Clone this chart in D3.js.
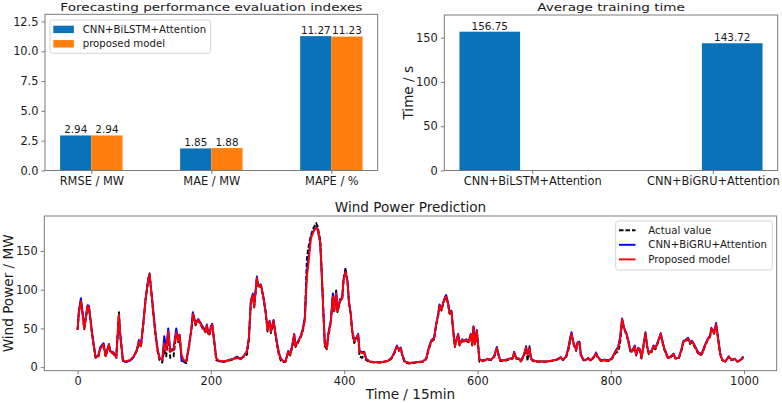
<!DOCTYPE html>
<html>
<head>
<meta charset="utf-8">
<script src="https://cdn.jsdelivr.net/npm/d3@7"></script>
<style>
  html, body { margin: 0; padding: 0; background: #fff; }
  svg { display: block; font-family: 'DejaVu Sans', sans-serif; }
</style>
</head>
<body>
<div class="js-container"></div>
<script>
// Top left: error metrics of the two models.
var metricNames = ['RMSE / MW', 'MAE / MW', 'MAPE / %'];
var bilstmScores = [2.94, 1.85, 11.27];
var proposedScores = [2.94, 1.88, 11.23];
var metricTicks = [0, 2.5, 5, 7.5, 10, 12.5];

// Top right: average training time.
var modelNames = ['CNN+BiLSTM+Attention', 'CNN+BiGRU+Attention'];
var trainSeconds = [156.75, 143.72];
var secondTicks = [0, 50, 100, 150];

// Bottom: wind power series at these time steps.
var timeIdx = [
  0,2,5,10,15,17,22,27,31,34,
  39,42,47,49,54,58,62,64,68,72,
  79,84,89,92,95,99,102,106,108,112,
  114,117,120,123,127,130,133,136,139,144,
  148,151,153,156,159,163,167,171,173,177,
  181,184,188,192,194,196,198,200,202,205,
  208,211,219,226,234,239,244,249,254,257,
  260,263,265,269,271,275,279,282,285,288,
  290,294,296,299,302,305,309,312,316,319,
  322,325,327,331,335,338,341,344,346,350,
  354,358,360,364,366,369,371,374,376,380,
  383,385,388,390,394,397,399,402,405,407,
  410,412,415,418,421,423,427,430,433,438,
  446,456,466,471,476,479,482,485,487,491,
  498,508,518,523,527,531,535,538,541,543,
  546,548,551,553,556,558,561,563,566,568,
  571,573,577,580,583,587,590,592,594,596,
  599,603,608,613,615,620,625,629,631,634,
  640,648,653,655,658,663,665,670,673,675,
  678,680,683,690,705,718,725,728,733,736,
  739,741,744,748,750,753,755,759,763,766,
  770,775,778,780,785,790,797,802,807,811,
  814,817,820,823,826,829,832,836,838,841,
  844,846,849,852,855,857,861,864,867,871,
  875,877,880,882,886,890,894,897,902,906,
  909,912,916,919,922,926,930,934,937,941,
  945,949,951,955,958,961,964,967,972,977,
  981,986,990,995,999
];

var actualPower = [
  48,72,86,49,78,77,40,12,13,24,
  28,13,28,19,17,12,71,40,8.5,6.5,
  9,13,21,32,26,58,87,114,121,84,
  65,40,20,9,6,22,14,44,12,14,
  44,32,40,14,7,5,25,49,70,54,
  60,56,49,45,53,43,41,51,55,32,
  9,8,7,8,10,12,10,13,16,35,
  84,92,77,114,103,105,88,71,46,58,
  44,59,47,29,16,8,6.5,7,19,15,
  26,41,26,32,39,47,62,140,153,170,
  180,186,182,165,130,68,27,23,38,58,
  95,72,99,71,86,87,113,128,110,84,
  66,44,31,36,41,14,12,18,9,6.5,
  6,6,8,11,19,26,21,24,15,5.5,
  4.5,6,7,10,23,33,36,54,66,79,
  73,80,88,90,81,69,71,51,26,32,
  41,28,34,32,34,32,41,28,51,28,
  46,7,8,9,10,9,13,23,17,8,
  8,10,11,18,11,10,7,15,27,8,
  27,11,8,7,7,9,12,9,13,20,
  34,42,30,21,30,31,15,9,9,11,
  8,13,17,13,8,8.5,8,11,18,20,
  30,60,49,43,34,21,19,26,15,23,
  21,11,26,43,23,17,19,26,23,32,
  42,34,23,19,11,13,16,11,11,21,
  32,33,36,30,32,26,19,15,17,26,
  34,39,49,43,54,36,17,9,7,13,
  9,10,7,9,13
];

var bigruPower = [
  49,73,89,52,80,79,43,13,15,26,
  31,15,30,21,19,13,66,44,8.5,6.5,
  8.5,13,23,35,28,61,88,113,119,87,
  69,44,24,12,9,40,24,50,22,24,
  50,36,42,8,8.5,7,27,52,71,57,
  62,58,52,47,55,45,43,53,56,35,
  12,8,7,9,11,13.5,11,14,21,38,
  86,95,80,117,105,107,90,73,49,60,
  47,61,49,33,19,11,7.5,7.5,21,17,
  28,43,28,34,41,50,65,123,138,168,
  176,181,178,160,125,65,30,26,43,61,
  94,74,97,73,88,89,113,124,111,86,
  68,48,35,38,43,21,19,20,11,7.5,
  6.5,6.5,8.5,12,21,28,23,25.5,17,7.5,
  5.5,6.5,7.5,11,26,35,38,56,68,81,
  75,82,90,93,83,71,73,54,29,34,
  43,30,36,34,36,34,43,30,53,31,
  48,9.5,9,9.5,11,9.5,14,26,19,9,
  9,11,12,20,12,11,7.5,17,26,17,
  25,12,9,7.5,7.5,9.5,13,9.5,14,24,
  38,45,32,23,32,33,17,9.5,9.5,12,
  9,14,19,14,9,9.5,9,12,21,26,
  39,63,51,45,36,23,21,28,17,25,
  23,12,28,45,25,19,21,28,25,34,
  44,36,25,21,12,14,17.5,12,12,23,
  34,35,38,32,34,28,21,17,19,28,
  36,41,51,45,57,38,19,9.5,7.5,14,
  9.5,11,7.5,9.5,14
];

var proposedPower = [
  48,70,85,50,79,78,41,12.5,14,24,
  29,14,29,20,18,12.5,68,42,9.4,7.3,
  9.4,13.7,22,33,26.7,59,87,112,120,85,
  67,42,22,11.6,9.4,31,22,46,20,22,
  45,33,41.7,16,9.4,7.3,26.7,50,69,55,
  61,57,50,46,54,44,42,52,55,33,
  11.6,8.6,7.3,8.6,10.7,12.5,10.3,13.7,20,37,
  85,93,78,115,104,106,89,72,48,59,
  46,60,48,31,18,10.7,7.3,7.3,20,16,
  27,42,27,33,40,48,61,117,130,166,
  175,180,179,162,128,67,29,24.5,40,59,
  91,72,95,72,87,88,112,123,110,85,
  67,46,33,37,42,20,18,19,10.7,7.3,
  6.4,6.4,8.2,11.6,20,27,22,24.5,16,7.3,
  5.2,6.4,7.3,10.7,24.5,34,37,55,67,80,
  74,81,89,91,82,70,72,52,27,33,
  42,29,35,33,35,33,42,29,52,29,
  47,9.4,8.6,9.4,10.7,9.4,13.7,24.5,18,8.6,
  8.6,10.7,11.6,19,11.6,10.7,7.3,16,25,16,
  24.5,11.6,8.6,7.3,7.3,9.4,12.5,9.4,13.7,22.4,
  35,43,31,22.4,31,32,16,9.4,9.4,11.6,
  8.6,13.7,18,13.7,8.6,9,8.6,11.6,20,24.5,
  37,62,50,44,35,22.4,20,27,16,24.5,
  22.4,11.6,27,44,24.5,18,20,27,24.5,33,
  43,35,24.5,20,11.6,13.7,17,11.6,11.6,22.4,
  33,34,37,31,33,27,20,16,18,27,
  35,40,50,44,55,37,18,9.4,7.3,13.7,
  9.4,10.7,7.3,9.4,13.7
];

var powerTicks = [0, 50, 100, 150];
var stepTicks = [0, 200, 400, 600, 800, 1000];

;(function() {
  'use strict';

  var W = 782, H = 403;
  var blue = '#0a72b8';
  var orange = '#ff7f0e';
  var frameColor = '#6e6e6e';
  var textColor = '#1a1a1a';
  var tickFont = 11.4;
  var titleFont = 13.6;
  var legendFont = 10.2;

  var svg = d3.select('.js-container').append('svg')
              .attr('width', W)
              .attr('height', H);

  /**
   * Draws frame, axes and title for one panel.
   * box = {l, r, t, b}; titleY is the title baseline, squash its vertical scale.
   */
  function drawFrame(box, x, y, xTicks, xFormat, yTicks, yFormat, title, titleY, squash) {
    var g = svg.append('g');

    g.append('g')
        .attr('transform', 'translate(0,' + box.b + ')')
        .call(d3.axisBottom(x).tickValues(xTicks).tickFormat(xFormat)
                .tickSizeOuter(0).tickSize(3.5).tickPadding(3));

    g.append('g')
        .attr('transform', 'translate(' + box.l + ',0)')
        .call(d3.axisLeft(y).tickValues(yTicks).tickFormat(yFormat)
                .tickSizeOuter(0).tickSize(3.5).tickPadding(3));

    g.selectAll('.domain').remove();
    g.selectAll('.tick line').attr('stroke', frameColor).attr('stroke-width', 0.9);
    g.selectAll('.tick text')
        .attr('fill', textColor)
        .style('font-size', tickFont + 'px')
        .style('font-family', "'DejaVu Sans', sans-serif");

    g.append('rect')
        .attr('x', box.l)
        .attr('y', box.t)
        .attr('width', box.r - box.l)
        .attr('height', box.b - box.t)
        .attr('fill', 'none')
        .attr('stroke', frameColor)
        .attr('stroke-width', 0.9);

    svg.append('text')
        .attr('transform', 'translate(' + ((box.l + box.r) / 2) + ',' + titleY + ') scale(1,' + squash + ')')
        .attr('text-anchor', 'middle')
        .attr('fill', textColor)
        .style('font-size', titleFont + 'px')
        .text(title);
    return g;
  }

  function yLabel(text, cx, cy) {
    svg.append('text')
        .attr('transform', 'translate(' + cx + ',' + cy + ') rotate(-90)')
        .attr('text-anchor', 'middle')
        .attr('dy', '0.35em')
        .attr('fill', textColor)
        .style('font-size', titleFont + 'px')
        .text(text);
  }

  // ---------- top left: evaluation indexes ----------
  function metricsChart() {
    var box = {l: 45, r: 377.7, t: 14.3, b: 170.5};
    var barW = 0.26;
    var x = d3.scaleLinear().domain([-0.386, 2.386]).range([box.l, box.r]);
    var y = d3.scaleLinear().domain([0, 13.1]).range([box.b, box.t]);

    var g = svg.append('g');
    var series = [
      {vals: bilstmScores, off: -barW, color: blue},
      {vals: proposedScores, off: 0, color: orange}
    ];
    series.forEach(function(s) {
      s.vals.forEach(function(v, i) {
        g.append('rect')
            .attr('x', x(i + s.off))
            .attr('y', y(v))
            .attr('width', x(barW) - x(0))
            .attr('height', y(0) - y(v))
            .attr('fill', s.color);
        g.append('text')
            .attr('x', x(i + s.off + barW / 2))
            .attr('y', y(v) - 2.5)
            .attr('text-anchor', 'middle')
            .attr('fill', textColor)
            .style('font-size', '10.4px')
            .text(v.toFixed(2));
      });
    });

    drawFrame(box, x, y, [0, 1, 2], function(d) { return metricNames[d]; },
              metricTicks, d3.format('.1f'), 'Forecasting performance evaluation indexes', 10.6, 0.8);

    // legend
    var lg = svg.append('g');
    lg.append('rect')
        .attr('x', 50).attr('y', 20)
        .attr('width', 160.7).attr('height', 33.3)
        .attr('rx', 2.5)
        .attr('fill', '#fff').attr('fill-opacity', 0.8)
        .attr('stroke', '#d0d0d0').attr('stroke-width', 0.9);
    [['CNN+BiLSTM+Attention', blue], ['proposed model', orange]].forEach(function(e, i) {
      var cy = 29.4 + i * 14.4;
      lg.append('rect')
          .attr('x', 53.3).attr('y', cy - 3.7)
          .attr('width', 20.6).attr('height', 7.4)
          .attr('fill', e[1]);
      lg.append('text')
          .attr('x', 82.7).attr('y', cy)
          .attr('dy', '0.35em')
          .attr('fill', textColor)
          .style('font-size', legendFont + 'px')
          .text(e[0]);
    });
  }

  // ---------- top right: training time ----------
  function timeChart() {
    var box = {l: 444.3, r: 777.7, t: 15, b: 170.5};
    var barW = 0.25;
    var x = d3.scaleLinear().domain([-0.1875, 1.1875]).range([box.l, box.r]);
    var y = d3.scaleLinear().domain([0, 175.6]).range([box.b, box.t]);
    // where the category labels sit under the axis in the original figure
    var labelAt = [0.175, 0.92];

    var g = svg.append('g');
    trainSeconds.forEach(function(v, i) {
      g.append('rect')
          .attr('x', x(i - barW / 2))
          .attr('y', y(v))
          .attr('width', x(barW) - x(0))
          .attr('height', y(0) - y(v))
          .attr('fill', blue);
      g.append('text')
          .attr('x', x(i))
          .attr('y', y(v) - 2)
          .attr('text-anchor', 'middle')
          .attr('fill', textColor)
          .style('font-size', '10.4px')
          .text(v.toFixed(2));
    });

    drawFrame(box, x, y, labelAt, function(d, i) { return modelNames[i]; },
              secondTicks, d3.format('d'), 'Average training time', 10.9, 0.8);
    yLabel('Time / s', 408, (box.t + box.b) / 2);
  }

  // ---------- bottom: wind power prediction ----------
  function powerChart() {
    var box = {l: 44.3, r: 776.7, t: 216, b: 370.7};
    var all = actualPower.concat(bigruPower, proposedPower);
    var lo = d3.min(all), hi = d3.max(all);
    var pad = (hi - lo) * 0.05;
    var x = d3.scaleLinear().domain([-49.95, 1048.95]).range([box.l, box.r]);
    var y = d3.scaleLinear().domain([lo - pad, hi + pad]).range([box.b, box.t]);

    var g = svg.append('g');
    var series = [
      {vals: actualPower, color: '#000', dash: '4.5,2', name: 'Actual value'},
      {vals: bigruPower, color: '#0000ff', dash: null, name: 'CNN+BiGRU+Attention'},
      {vals: proposedPower, color: '#ff0000', dash: null, name: 'Proposed model'}
    ];

    series.forEach(function(s) {
      var line = d3.line()
          .x(function(d, i) { return x(timeIdx[i]); })
          .y(function(d) { return y(d); });
      g.append('path')
          .datum(s.vals)
          .attr('d', line)
          .attr('fill', 'none')
          .attr('stroke', s.color)
          .attr('stroke-width', 1.9)
          .attr('stroke-linejoin', 'round')
          .attr('stroke-dasharray', s.dash);
    });

    drawFrame(box, x, y, stepTicks, d3.format('d'), powerTicks, d3.format('d'),
              'Wind Power Prediction', 211.8, 1);
    yLabel('Wind Power / MW', 8, (box.t + box.b) / 2);

    svg.append('text')
        .attr('x', (box.l + box.r) / 2)
        .attr('y', 399)
        .attr('text-anchor', 'middle')
        .attr('fill', textColor)
        .style('font-size', titleFont + 'px')
        .text('Time / 15min');

    // legend
    var lg = svg.append('g');
    lg.append('rect')
        .attr('x', 615.7).attr('y', 221)
        .attr('width', 156.6).attr('height', 49)
        .attr('rx', 2.5)
        .attr('fill', '#fff').attr('fill-opacity', 0.8)
        .attr('stroke', '#d0d0d0').attr('stroke-width', 0.9);
    series.forEach(function(s, i) {
      var cy = 230.2 + i * 14.6;
      lg.append('line')
          .attr('x1', 619).attr('x2', 635.5)
          .attr('y1', cy).attr('y2', cy)
          .attr('stroke', s.color)
          .attr('stroke-width', 1.9)
          .attr('stroke-dasharray', s.dash);
      lg.append('text')
          .attr('x', 648.3).attr('y', cy)
          .attr('dy', '0.35em')
          .attr('fill', textColor)
          .style('font-size', legendFont + 'px')
          .text(s.name);
    });
  }

  metricsChart();
  timeChart();
  powerChart();

}());
</script>
</body>
</html>
